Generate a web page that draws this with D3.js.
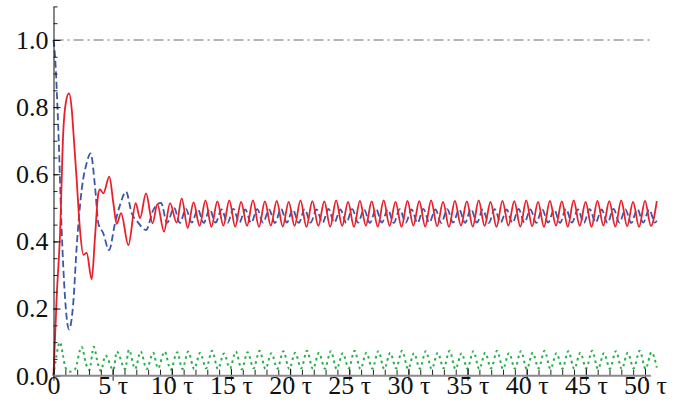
<!DOCTYPE html>
<html><head><meta charset="utf-8">
<script src="https://cdn.jsdelivr.net/npm/d3@7"></script>
<style>html,body{margin:0;padding:0;background:#fff;}svg{display:block;}</style>
</head><body>
<svg id="chart" width="690" height="410"></svg>
<script>
// ---- data ----
const xMajorTicks = [0,5,10,15,20,25,30,35,40,45,50];
const yMajorTicks = [0,0.2,0.4,0.6,0.8,1.0];
const refLevel = 1.0;

const redPts = [
[0,0],[0.27,0.235],[0.55,0.42],[0.83,0.73],[1.05,0.815],[1.31,0.841],[1.55,0.79],[1.67,0.732],[1.96,0.583],[2.24,0.434],[2.52,0.36],[2.8,0.366],[3.23,0.287],[3.51,0.414],[3.79,0.543],[3.93,0.555],[4.21,0.543],[4.72,0.593],[5.06,0.514],[5.34,0.452],[5.71,0.484],[6.33,0.389],[6.95,0.514],[7.31,0.469],[7.82,0.543],[8.38,0.454],[8.78,0.511],[9.34,0.429],[9.85,0.514],[10.41,0.456],[10.84,0.528],
[11.34,0.440],[11.84,0.516],[12.35,0.446],[12.85,0.522],[13.35,0.443],[13.85,0.519],[14.36,0.447],[14.86,0.522],[15.36,0.444],[15.86,0.518],[16.36,0.446],[16.86,0.522],[17.37,0.443],[17.87,0.519],[18.37,0.447],[18.87,0.521],[19.38,0.444],[19.88,0.518],[20.38,0.446],[20.88,0.522],[21.38,0.443],[21.88,0.520],[22.39,0.446],[22.89,0.519],[23.39,0.444],[23.89,0.522],[24.40,0.446],[24.90,0.518],[25.40,0.443],[25.90,0.521],[26.40,0.447],[26.90,0.519],[27.41,0.444],[27.91,0.522],[28.41,0.446],[28.91,0.518],[29.42,0.443],[29.92,0.521],[30.42,0.447],[30.92,0.520],[31.42,0.444],[31.92,0.522],[32.43,0.445],[32.93,0.518],[33.43,0.443],[33.93,0.521],[34.44,0.447],[34.94,0.519],[35.44,0.444],[35.94,0.522],[36.44,0.446],[36.94,0.518],[37.45,0.443],[37.95,0.521],[38.45,0.447],[38.95,0.520],[39.46,0.444],[39.96,0.522],[40.46,0.445],[40.96,0.518],[41.46,0.443],[41.96,0.521],[42.47,0.447],[42.97,0.519],[43.47,0.444],[43.97,0.522],[44.48,0.446],[44.98,0.518],[45.48,0.443],[45.98,0.521],[46.48,0.447],[46.98,0.520],[47.49,0.444],[47.99,0.522],[48.49,0.445],[48.99,0.518],[49.50,0.443],[50.00,0.521],[50.50,0.446],[51.00,0.520]
];

const bluePts = [
[0,1.0],[0.13,0.95],[0.41,0.732],[0.69,0.434],[0.97,0.235],[1.31,0.138],[1.67,0.216],[1.96,0.384],[2.38,0.553],[2.8,0.633],[3.14,0.662],[3.51,0.563],[3.79,0.454],[4.21,0.424],[4.69,0.374],[5.2,0.454],[5.62,0.508],[6.13,0.548],[6.61,0.484],[7.09,0.459],[7.82,0.434],[8.44,0.494],[9.09,0.515],[9.6,0.455],
[10.19,0.500],[10.69,0.455],[11.19,0.497],[11.69,0.456],[12.2,0.495],[12.7,0.455],[13.2,0.496],[13.7,0.456],[14.21,0.495],[14.71,0.455],[15.21,0.497],[15.71,0.456],[16.21,0.495],[16.71,0.455],[17.22,0.496],[17.72,0.456],[18.22,0.495],[18.72,0.455],[19.23,0.497],[19.73,0.456],[20.23,0.495],[20.73,0.455],[21.23,0.496],[21.73,0.456],[22.24,0.495],[22.74,0.455],[23.24,0.497],[23.74,0.456],[24.25,0.495],[24.75,0.455],[25.25,0.496],[25.75,0.456],[26.25,0.495],[26.75,0.455],[27.26,0.497],[27.76,0.456],[28.26,0.495],[28.76,0.455],[29.27,0.496],[29.77,0.456],[30.27,0.495],[30.77,0.455],[31.27,0.497],[31.77,0.456],[32.28,0.495],[32.78,0.455],[33.28,0.496],[33.78,0.456],[34.29,0.495],[34.79,0.455],[35.29,0.497],[35.79,0.456],[36.29,0.495],[36.79,0.455],[37.3,0.496],[37.8,0.456],[38.3,0.495],[38.8,0.455],[39.31,0.497],[39.81,0.456],[40.31,0.495],[40.81,0.455],[41.31,0.496],[41.81,0.456],[42.32,0.495],[42.82,0.455],[43.32,0.497],[43.82,0.456],[44.33,0.495],[44.83,0.455],[45.33,0.496],[45.83,0.456],[46.33,0.495],[46.83,0.455],[47.34,0.497],[47.84,0.456],[48.34,0.495],[48.84,0.455],[49.35,0.496],[49.85,0.456],[50.35,0.495],[50.85,0.456],[51.0,0.462]
];

const greenPts = [
[0,0],[0.25,0.06],[0.55,0.1],[0.8,0.06],[1.0,0.025],[1.35,0.012],[1.8,0.018],[2.38,0.086],[2.75,0.035],[3.03,0.017],[3.4,0.086],[3.75,0.035],[4.0,0.015],[4.4,0.06],[5.06,0.017],[5.35,0.072],[6.05,0.02],[6.38,0.077],[6.9,0.02],[7.37,0.072],[7.87,0.02],[8.43,0.068],[8.83,0.022],[9.39,0.072],[9.9,0.018],[10.46,0.07],[10.89,0.02],
[11.39,0.072],[11.89,0.02],[12.4,0.068],[12.9,0.022],[13.4,0.074],[13.9,0.02],[14.41,0.066],[14.91,0.022],[15.41,0.072],[15.91,0.019],[16.41,0.07],[16.91,0.022],[17.42,0.074],[17.92,0.02],[18.42,0.067],[18.92,0.021],[19.43,0.073],[19.93,0.02],[20.43,0.068],[20.93,0.022],[21.43,0.074],[21.93,0.02],[22.44,0.068],[22.94,0.021],[23.44,0.073],[23.94,0.02],[24.45,0.067],[24.95,0.022],[25.45,0.074],[25.95,0.02],[26.45,0.068],[26.95,0.021],[27.46,0.073],[27.96,0.02],[28.46,0.068],[28.96,0.022],[29.47,0.074],[29.97,0.02],[30.47,0.067],[30.97,0.021],[31.47,0.073],[31.97,0.02],[32.48,0.068],[32.98,0.022],[33.48,0.074],[33.98,0.02],[34.49,0.067],[34.99,0.021],[35.49,0.073],[35.99,0.02],[36.49,0.068],[36.99,0.022],[37.5,0.074],[38.0,0.02],[38.5,0.067],[39.0,0.021],[39.51,0.073],[40.01,0.02],[40.51,0.068],[41.01,0.022],[41.51,0.074],[42.01,0.02],[42.52,0.067],[43.02,0.021],[43.52,0.073],[44.02,0.02],[44.53,0.068],[45.03,0.022],[45.53,0.074],[46.03,0.02],[46.53,0.067],[47.03,0.021],[47.54,0.073],[48.04,0.02],[48.54,0.068],[49.04,0.022],[49.55,0.074],[50.05,0.02],[50.55,0.07],[51.0,0.024]
];

// ---- drawing ----
const svg = d3.select("#chart");
svg.append("rect").attr("width",690).attr("height",410).attr("fill","#fff");

const x = d3.scaleLinear().domain([0,50]).range([53.5,645]);
const y = d3.scaleLinear().domain([0,1.1]).range([375.7,6.4]);
const SERIF = "Liberation Serif";
const FS = 26;

const line = d3.line().x(d=>x(d[0])).y(d=>y(d[1])).curve(d3.curveMonotoneX);

// reference dash-dot line at 1.0
svg.append("path")
  .datum([[0,refLevel],[50.5,refLevel]])
  .attr("d", d3.line().x(d=>x(d[0])).y(d=>y(d[1])))
  .attr("fill","none").attr("stroke","#9b9b9b").attr("stroke-width",1.5)
  .attr("stroke-dasharray","10,4,2,4");

svg.append("path").datum(greenPts).attr("d",line)
  .attr("fill","none").attr("stroke","#2bae4c").attr("stroke-width",2)
  .attr("stroke-dasharray","2.5,3.5");
svg.append("path").datum(bluePts).attr("d",line)
  .attr("fill","none").attr("stroke","#3858a8").attr("stroke-width",1.8)
  .attr("stroke-dasharray","7,3.5");
svg.append("path").datum(redPts).attr("d",line)
  .attr("fill","none").attr("stroke","#ea1f29").attr("stroke-width",1.8);

// y axis: minor ticks
const yMinor = d3.range(0, 1.1001, 0.05).map(v=>+v.toFixed(2));
svg.append("g").attr("transform",`translate(${x(0)},0)`)
  .call(d3.axisLeft(y).tickValues(yMinor).tickSize(-4).tickFormat(""))
  .call(g=>g.select(".domain").remove())
  .call(g=>g.selectAll("line").attr("stroke","#222"));
// y axis: major
svg.append("g").attr("transform",`translate(${x(0)},0)`)
  .call(d3.axisLeft(y).tickValues(yMajorTicks).tickSizeInner(-7).tickSizeOuter(0).tickPadding(5).tickFormat(d3.format(".1f")))
  .attr("font-family",SERIF).attr("font-size",FS)
  .call(g=>g.select(".domain").attr("stroke","#111").attr("stroke-width",1))
  .call(g=>g.selectAll("line").attr("stroke","#111"))
  .call(g=>g.selectAll("text").attr("fill","#111"));

// x axis: minor ticks
const xMinor = d3.range(0, 51, 1);
svg.append("g").attr("transform",`translate(0,${y(0)})`)
  .call(d3.axisBottom(x).tickValues(xMinor).tickSize(-6).tickFormat(""))
  .call(g=>g.select(".domain").remove())
  .call(g=>g.selectAll("line").attr("stroke","#222"));
// x axis: major
svg.append("g").attr("transform",`translate(0,${y(0)})`)
  .call(d3.axisBottom(x).tickValues(xMajorTicks).tickSizeInner(-7).tickSizeOuter(0).tickPadding(0)
    .tickFormat(d=> d===0 ? "0" : d + " \u03C4"))
  .attr("font-family",SERIF).attr("font-size",FS)
  .call(g=>g.select(".domain").remove())
  .call(g=>g.selectAll("line").attr("y1",5).attr("stroke","#111"))
  .call(g=>g.selectAll("text").attr("fill","#111"));
// x axis line (gray)
svg.append("line")
  .attr("x1",x(0)).attr("x2",x(50.5)).attr("y1",y(0)).attr("y2",y(0))
  .attr("stroke","#8a8a8a").attr("stroke-width",2);
</script>
</body></html>
